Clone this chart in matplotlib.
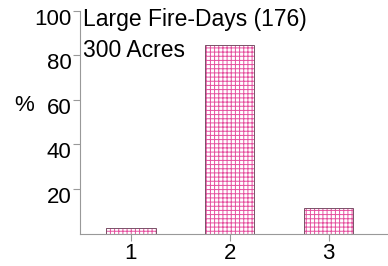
import matplotlib
matplotlib.use('Agg')
import matplotlib.pyplot as plt
import matplotlib.transforms as mtransforms

# Data
categories = [1, 2, 3]
percent = [2.5, 84.7, 11.5]
y_ticks = [20, 40, 60, 80, 100]
title_lines = ['Large Fire-Days (176)', '300 Acres']

plt.rcParams['font.family'] = ['Liberation Sans', 'DejaVu Sans']
plt.rcParams['hatch.linewidth'] = 0.7

fig = plt.figure(figsize=(3.88, 2.66), dpi=100)
ax = fig.add_axes([0.206, 0.122, 0.794, 0.837])

# hatched fill (hatch takes the edge colour), then a dark outline on top
ax.bar(categories, percent, width=0.5, color='white', edgecolor='#e5509f',
       hatch='++++', linewidth=0)
ax.bar(categories, percent, width=0.5, fill=False, edgecolor='#7a5068',
       linewidth=0.7)

ax.set_xlim(0.485, 3.6)
ax.set_ylim(0, 100)
ax.set_xticks(categories)
ax.set_yticks(y_ticks)

for side in ['top', 'right']:
    ax.spines[side].set_visible(False)
for side in ['left', 'bottom']:
    ax.spines[side].set_color('#999999')
    ax.spines[side].set_linewidth(0.8)
ax.tick_params(colors='#999999', labelcolor='black', labelsize=16,
               length=5, width=0.8)
ax.tick_params(axis='y', pad=1)
ax.tick_params(axis='x', pad=2)

# y tick labels sit a little below their ticks in the original
offset = mtransforms.ScaledTranslation(0, -6 / 100, fig.dpi_scale_trans)
for lbl in ax.get_yticklabels():
    lbl.set_transform(lbl.get_transform() + offset)

fig.text(0.214, 0.925, title_lines[0], fontsize=16.5, ha='left', va='center')
fig.text(0.214, 0.812, title_lines[1], fontsize=16.5, ha='left', va='center')
fig.text(0.038, 0.605, '%', fontsize=16, ha='left', va='center')

fig.savefig('out.png', dpi=100)
